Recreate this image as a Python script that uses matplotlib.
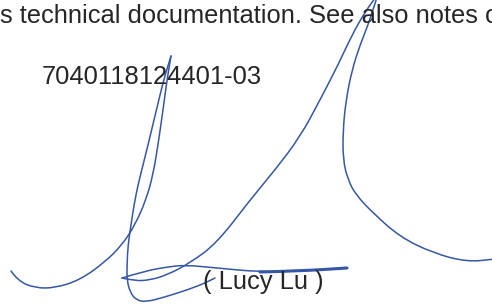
import matplotlib
matplotlib.use('Agg')
import matplotlib.pyplot as plt
from matplotlib.path import Path
from matplotlib.patches import PathPatch

# printed text lines: (text, x, baseline y)
doc_lines = ["s technical documentation. See also notes on", "7040118124401-03", "( Lucy Lu )"]
doc_x = [0, 42, 203]
doc_y = [23, 84, 289]

# signature strokes, points in image pixels
stroke_hook = [(11,271),(18,281),(35,288),(55,288),(80,280),(105,262),(122,245),(135,225),
               (146,200),(153,175),(158,145),(163,110),(167,80),(171,56)]
stroke_down = [(171,56),(165,75),(160,95),(154,120),(148,145),(143,165),(138,185),(134,205),
               (131,225),(128,245),(127,265),(127,280),(130,292),(136,300),(146,302),(165,297),
               (190,289),(205,283),(215,278)]
stroke_diag = [(122,278),(135,281),(150,280),(167,275),(190,263),(217,243),(250,200),(275,170),
               (300,137),(320,100),(338,65),(352,35),(365,12),(378,-6)]
stroke_loop = [(378,-6),(370,20),(360,45),(352,70),(346,100),(343,130),(343,160),(348,180),
               (356,195),(373,213),(400,237),(433,253),(467,262),(495,259)]
stroke_flat = [(122,278),(145,271),(167,267),(185,265),(217,268),(260,272),(300,271),(347,268)]

ink = '#3657a6'

def smooth_path(pts):
    verts = [pts[0]]
    codes = [Path.MOVETO]
    for i in range(1, len(pts) - 1):
        mid = ((pts[i][0] + pts[i+1][0]) / 2, (pts[i][1] + pts[i+1][1]) / 2)
        verts += [pts[i], mid]
        codes += [Path.CURVE3, Path.CURVE3]
    verts.append(pts[-1])
    codes.append(Path.LINETO)
    return Path(verts, codes)

fig = plt.figure(figsize=(4.92, 3.04), dpi=100)
ax = fig.add_axes([0, 0, 1, 1])
ax.set_xlim(0, 492)
ax.set_ylim(304, 0)
ax.axis('off')

for t, x, y in zip(doc_lines, doc_x, doc_y):
    ax.text(x, y, t, fontsize=18.4, family='Liberation Sans', color='#262626',
            va='baseline', ha='left')

for s in [stroke_hook, stroke_down, stroke_diag, stroke_loop, stroke_flat]:
    ax.add_patch(PathPatch(smooth_path(s), fill=False, edgecolor=ink, lw=1.1,
                           capstyle='round', joinstyle='round'))
ax.add_patch(PathPatch(smooth_path(stroke_flat[-3:]), fill=False, edgecolor=ink, lw=2.2,
                       capstyle='round'))

plt.savefig('out.png', dpi=100)
